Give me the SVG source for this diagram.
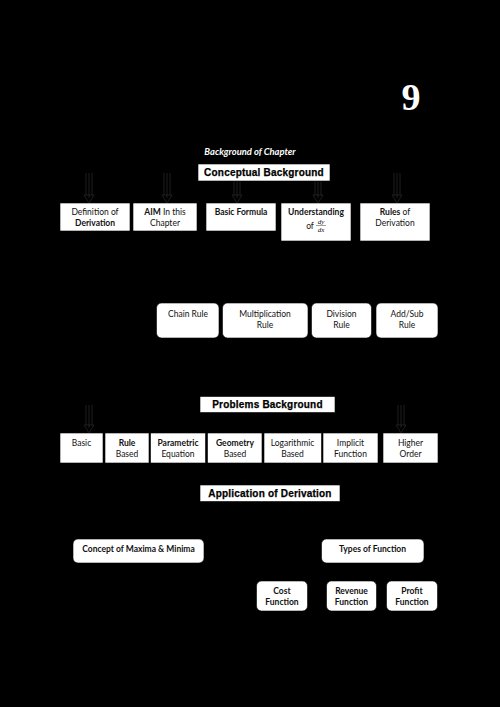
<svg xmlns="http://www.w3.org/2000/svg" width="500" height="707" viewBox="0 0 500 707">
<defs>
<style>
.bg{fill:#000}
.box{fill:#fff;stroke:#000;stroke-width:0.6}
.hdr{fill:#fff;stroke:#000;stroke-width:0.6}
.t{font-family:Lato,"Open Sans",sans-serif;font-size:8.5px;fill:#111;text-anchor:middle}
.b{font-weight:bold}
.h{font-family:"Liberation Sans",Arial,sans-serif;font-weight:900;font-size:10px;fill:#000;text-anchor:middle;letter-spacing:0.2px;stroke:#000;stroke-width:0.25}
.arr{fill:none;stroke:#2b2b2b;stroke-width:0.7}
.fr{font-family:"Liberation Serif",serif;font-style:italic;font-size:7px;fill:#111;text-anchor:middle}
</style>
</defs>
<rect class="bg" x="0" y="0" width="500" height="707"/>
<text x="411" y="110" font-family="'Liberation Serif',serif" font-weight="bold" font-size="38" fill="#fff" text-anchor="middle">9</text>
<text x="250" y="155" font-family="Lato,'Open Sans',sans-serif" font-style="italic" font-weight="bold" font-size="9.4" fill="#fff" text-anchor="middle">Background of Chapter</text>

<g id="connectors">
<path class="arr" d="M86 173V195M89 173V198M92 173V195M84 195H94L89 203Z"/>
<path class="arr" d="M164 173V195M167 173V198M170 173V195M162 195H172L167 203Z"/>
<path class="arr" d="M234 181V195M237 181V198M240 181V195M232 195H242L237 203Z"/>
<path class="arr" d="M315 181V195M318 181V198M321 181V195M313 195H323L318 203Z"/>
<path class="arr" d="M394 173V195M397 173V198M400 173V195M392 195H402L397 203Z"/>
<path class="arr" d="M86 405V425M89 405V428M92 405V425M84 425H94L89 433Z"/>
<path class="arr" d="M398 405V425M401 405V428M404 405V425M396 425H406L401 433Z"/>
</g>

<g id="conceptual-background"><rect class="hdr" x="198" y="164" width="132" height="17"/><text class="h" x="264" y="176">Conceptual Background</text></g>

<g id="definition"><rect class="box" x="60" y="203" width="70" height="28"/><text class="t" x="95" y="215">Definition of</text><text class="t b" x="95" y="226">Derivation</text></g>
<g id="aim"><rect class="box" x="133" y="203" width="64" height="28"/><text class="t" x="165" y="215"><tspan class="b">AIM</tspan> In this</text><text class="t" x="165" y="226">Chapter</text></g>
<g id="basic-formula"><rect class="box" x="206" y="203" width="70" height="28"/><text class="t b" x="241" y="215">Basic Formula</text></g>
<g id="understanding"><rect class="box" x="281" y="203" width="70" height="38"/><text class="t b" x="316" y="215">Understanding</text>
<text class="t" x="310" y="229">of</text>
<text class="fr" x="321" y="224">dy</text>
<line x1="316" y1="225.5" x2="326" y2="225.5" stroke="#111" stroke-width="0.4"/>
<text class="fr" x="321" y="232">dx</text></g>
<g id="rules"><rect class="box" x="360" y="203" width="70" height="38"/><text class="t" x="395" y="215"><tspan class="b">Rules</tspan> of</text><text class="t" x="395" y="226">Derivation</text></g>

<g id="chain-rule"><rect class="box" x="156.5" y="303" width="62.5" height="35" rx="5"/><text class="t" x="188" y="317">Chain Rule</text></g>
<g id="multiplication-rule"><rect class="box" x="222.5" y="303" width="85.5" height="35" rx="5"/><text class="t" x="265" y="317">Multiplication</text><text class="t" x="265" y="328">Rule</text></g>
<g id="division-rule"><rect class="box" x="311.5" y="303" width="60" height="35" rx="5"/><text class="t" x="341.5" y="317">Division</text><text class="t" x="341.5" y="328">Rule</text></g>
<g id="addsub-rule"><rect class="box" x="376" y="303" width="62" height="35" rx="5"/><text class="t" x="407" y="317">Add/Sub</text><text class="t" x="407" y="328">Rule</text></g>

<g id="problems-background"><rect class="hdr" x="200" y="396.5" width="135" height="16"/><text class="h" x="267.5" y="408">Problems Background</text></g>

<g id="basic"><rect class="box" x="60" y="433" width="43" height="30"/><text class="t" x="81.5" y="446">Basic</text></g>
<g id="rule-based"><rect class="box" x="105" y="433" width="44" height="30"/><text class="t b" x="127" y="446">Rule</text><text class="t" x="127" y="457">Based</text></g>
<g id="parametric"><rect class="box" x="150.5" y="433" width="55" height="30"/><text class="t b" x="178" y="446">Parametric</text><text class="t" x="178" y="457">Equation</text></g>
<g id="geometry"><rect class="box" x="207.5" y="433" width="54.5" height="30"/><text class="t b" x="235" y="446">Geometry</text><text class="t" x="235" y="457">Based</text></g>
<g id="logarithmic"><rect class="box" x="264" y="433" width="57.5" height="30"/><text class="t" x="292.5" y="446">Logarithmic</text><text class="t" x="292.5" y="457">Based</text></g>
<g id="implicit"><rect class="box" x="323" y="433" width="55" height="30"/><text class="t" x="350.5" y="446">Implicit</text><text class="t" x="350.5" y="457">Function</text></g>
<g id="higher-order"><rect class="box" x="383" y="433" width="55" height="30"/><text class="t" x="410.5" y="446">Higher</text><text class="t" x="410.5" y="457">Order</text></g>

<g id="application"><rect class="hdr" x="200" y="485" width="140" height="16.5"/><text class="h" x="270" y="497">Application of Derivation</text></g>

<g id="maxima-minima"><rect class="box" x="73" y="539" width="131" height="24" rx="5"/><text class="t b" x="138.5" y="552">Concept of Maxima &amp; Minima</text></g>
<g id="types-of-function"><rect class="box" x="321.5" y="539" width="102.5" height="24" rx="5"/><text class="t b" x="372.5" y="552">Types of Function</text></g>
<g id="cost-function"><rect class="box" x="256.5" y="581" width="51" height="30" rx="5"/><text class="t b" x="282" y="594">Cost</text><text class="t b" x="282" y="605">Function</text></g>
<g id="revenue-function"><rect class="box" x="326.5" y="581" width="50" height="30" rx="5"/><text class="t b" x="351.5" y="594">Revenue</text><text class="t b" x="351.5" y="605">Function</text></g>
<g id="profit-function"><rect class="box" x="386.5" y="581" width="51" height="30" rx="5"/><text class="t b" x="412" y="594">Profit</text><text class="t b" x="412" y="605">Function</text></g>
</svg>
